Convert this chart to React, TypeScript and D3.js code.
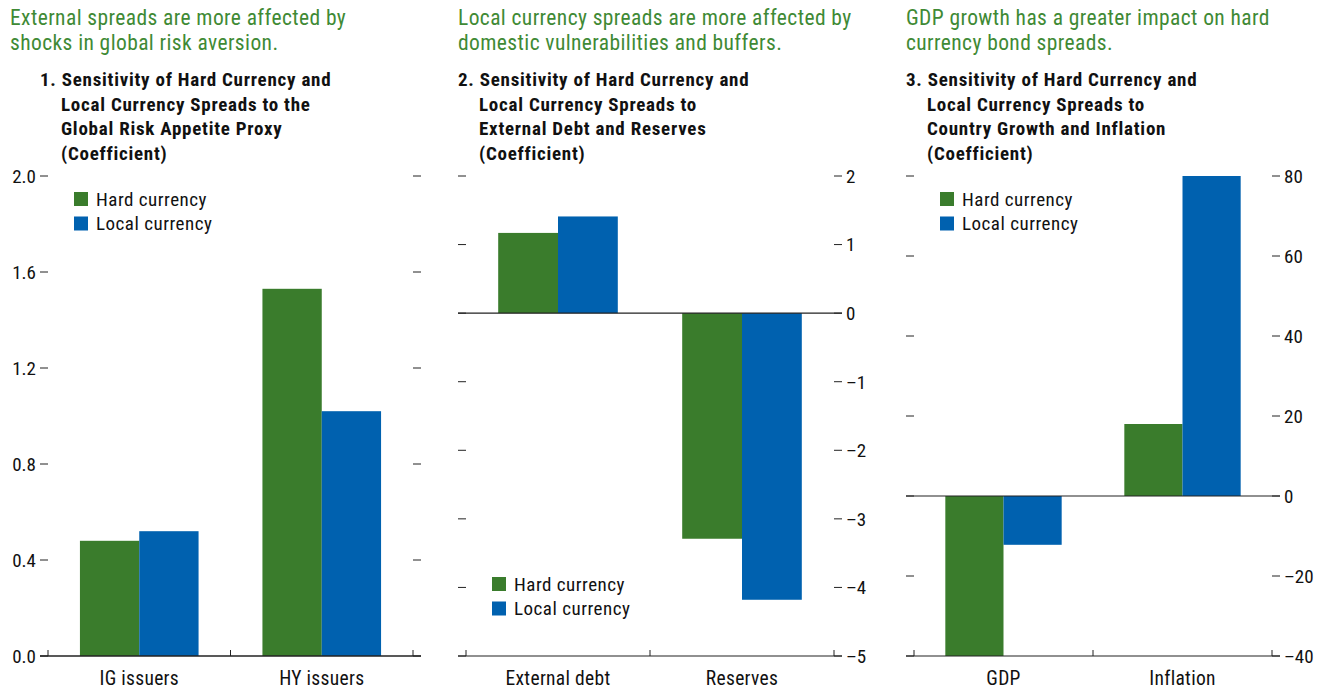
import React from 'react';
import * as d3 from 'd3';

// 시리즈 / 색상
const SERIES = ['Hard currency', 'Local currency'];
const COLORS = ['#3A7C2C', '#0061AF'];
const HEAD_GREEN = '#3F8A35';

// 패널 1
const P1_CATEGORIES = ['IG issuers', 'HY issuers'];
const P1_HARD = [0.48, 1.53];
const P1_LOCAL = [0.52, 1.02];
const P1_TICKS = [0, 0.4, 0.8, 1.2, 1.6, 2.0];
const P1_HEAD = ['External spreads are more affected by', 'shocks in global risk aversion.'];
const P1_TITLE = ['1. Sensitivity of Hard Currency and', 'Local Currency Spreads to the', 'Global Risk Appetite Proxy', '(Coefficient)'];

// 패널 2
const P2_CATEGORIES = ['External debt', 'Reserves'];
const P2_HARD = [1.17, -3.29];
const P2_LOCAL = [1.41, -4.18];
const P2_TICKS = [-5, -4, -3, -2, -1, 0, 1, 2];
const P2_HEAD = ['Local currency spreads are more affected by', 'domestic vulnerabilities and buffers.'];
const P2_TITLE = ['2. Sensitivity of Hard Currency and', 'Local Currency Spreads to', 'External Debt and Reserves', '(Coefficient)'];

// 패널 3
const P3_CATEGORIES = ['GDP', 'Inflation'];
const P3_HARD = [-40, 18];
const P3_LOCAL = [-12.2, 80];
const P3_TICKS = [-40, -20, 0, 20, 40, 60, 80];
const P3_HEAD = ['GDP growth has a greater impact on hard', 'currency bond spreads.'];
const P3_TITLE = ['3. Sensitivity of Hard Currency and', 'Local Currency Spreads to', 'Country Growth and Inflation', '(Coefficient)'];

const FONT = "'Liberation Sans Narrow', 'Arial Narrow', 'Roboto Condensed', sans-serif";
const TOP = 176;
const BOTTOM = 656;

const fmtDash = (s: string) => s.replace('-', '\u2013');

interface PanelProps {
  left: number;        // 왼쪽 눈금 시작
  width: number;       // 플롯 폭
  headX: number;
  categories: string[];
  hard: number[];
  local: number[];
  ticks: number[];
  tickFormat: (v: number) => string;
  labelSide: 'left' | 'right';
  head: string[];
  title: string[];
  legend: { x: number; y: number };
}

const Panel: React.FC<PanelProps> = ({ left, width, headX, categories, hard, local, ticks, tickFormat, labelSide, head, title, legend }) => {
  const tickLen = 8;
  const axisL = left + tickLen;          // 플롯 영역 시작
  const axisR = axisL + width;            // 플롯 영역 끝
  const y = d3.scaleLinear().domain([d3.min(ticks)!, d3.max(ticks)!]).range([BOTTOM, TOP]);
  const x = d3.scaleBand().domain(categories).range([axisL, axisR]).padding(0);
  const bw = x.bandwidth();
  const sub = d3.scaleBand().domain(SERIES).range([bw * 0.175, bw * 0.825]).padding(0);
  const values = [hard, local];
  const y0 = y(0);
  const minY = y(d3.min(ticks)!);

  return (
    <g>
      {head.map((t, i) => (
        <text key={i} x={headX} y={25 + i * 25} fill={HEAD_GREEN} fontSize={21.5} letterSpacing={0.4}>{t}</text>
      ))}
      {title.map((t, i) => (
        <text key={i} x={i === 0 ? left : left + 21} y={86 + i * 24.5} fontSize={19} letterSpacing={0.75} fontWeight="bold" fill="#111">{t}</text>
      ))}

      {/* bars */}
      {categories.map((c, ci) => (
        SERIES.map((s, si) => {
          const v = values[si][ci];
          const yt = Math.min(y(v), y0);
          const h = Math.abs(y(v) - y0);
          return <rect key={c + s} x={x(c)! + sub(s)!} y={yt} width={sub.bandwidth()} height={h} fill={COLORS[si]} />;
        })
      ))}

      {/* y ticks both sides */}
      {ticks.map(t => (
        <g key={t}>
          <line x1={left} x2={axisL} y1={y(t)} y2={y(t)} stroke="#222" strokeWidth={1} />
          <line x1={axisR} x2={axisR + tickLen} y1={y(t)} y2={y(t)} stroke="#222" strokeWidth={1} />
          {labelSide === 'left' ? (
            <text x={left - 4} y={y(t)} dy="0.36em" textAnchor="end" fontSize={19} fill="#111">{tickFormat(t)}</text>
          ) : (
            <text x={axisR + tickLen + 4} y={y(t)} dy="0.36em" textAnchor="start" fontSize={19} fill="#111">{tickFormat(t)}</text>
          )}
        </g>
      ))}

      {/* zero line */}
      <line x1={left} x2={axisR + tickLen} y1={y0} y2={y0} stroke="#222" strokeWidth={1.2} />
      {/* bottom axis */}
      <line x1={left} x2={axisR + tickLen} y1={minY} y2={minY} stroke="#222" strokeWidth={1.2} />
      {[...categories.map(c => x(c)!), axisR].map((px, i) => (
        <line key={i} x1={px} x2={px} y1={minY} y2={minY - 6} stroke="#222" strokeWidth={1} />
      ))}
      {categories.map(c => (
        <text key={c} x={x(c)! + bw / 2} y={685} textAnchor="middle" fontSize={19.5} letterSpacing={0.3} fill="#111">{c}</text>
      ))}

      {/* legend */}
      {SERIES.map((s, i) => (
        <g key={s} transform={`translate(${legend.x},${legend.y + i * 24.5})`}>
          <rect x={0} y={0} width={14} height={14} fill={COLORS[i]} />
          <text x={22} y={13.5} fontSize={19} letterSpacing={0.5} fill="#111">{s}</text>
        </g>
      ))}
    </g>
  );
};

export default function App() {
  return (
    <svg width={1331} height={690} style={{ position: 'absolute', left: 0, top: 0, background: '#fff' }} fontFamily={FONT}>
      <Panel left={40} width={365} headX={10} categories={P1_CATEGORIES} hard={P1_HARD} local={P1_LOCAL} ticks={P1_TICKS}
        tickFormat={d3.format('.1f')} labelSide="left" head={P1_HEAD} title={P1_TITLE} legend={{ x: 74, y: 192 }} />
      <Panel left={458} width={368} headX={458} categories={P2_CATEGORIES} hard={P2_HARD} local={P2_LOCAL} ticks={P2_TICKS}
        tickFormat={v => fmtDash(String(v))} labelSide="right" head={P2_HEAD} title={P2_TITLE} legend={{ x: 492, y: 577 }} />
      <Panel left={906} width={358} headX={906} categories={P3_CATEGORIES} hard={P3_HARD} local={P3_LOCAL} ticks={P3_TICKS}
        tickFormat={v => fmtDash(String(v))} labelSide="right" head={P3_HEAD} title={P3_TITLE} legend={{ x: 940, y: 192 }} />
    </svg>
  );
}
